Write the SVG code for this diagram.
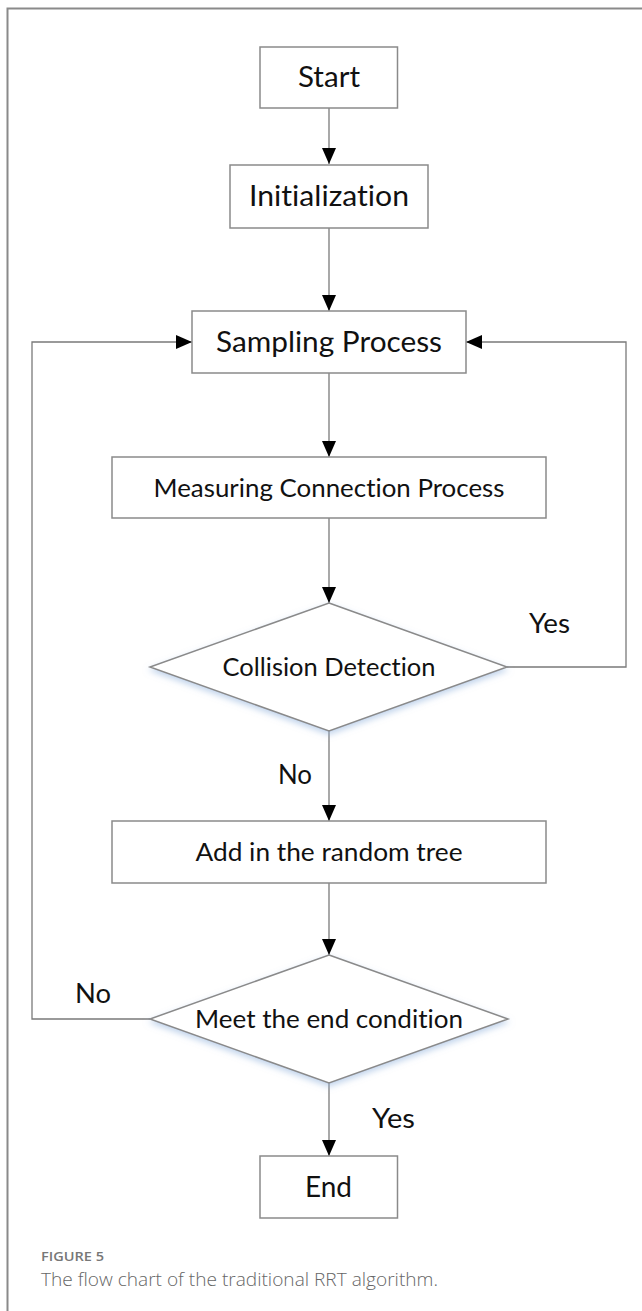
<svg xmlns="http://www.w3.org/2000/svg" width="642" height="1311" viewBox="0 0 642 1311">
<style>
.box{fill:#fff;stroke:#8a8a8a;stroke-width:1.5}
.dia{fill:#fff;stroke:#8a8a8a;stroke-width:1.5}
.ln{fill:none;stroke:#7a7a7a;stroke-width:1.3}
.t{font-family:Lato,"Open Sans","Liberation Sans",sans-serif;fill:#111;text-anchor:middle;font-variant-ligatures:none}
.big{font-size:28.5px}
.mid{font-size:25px}
.lab{font-family:Lato,"Open Sans","Liberation Sans",sans-serif;fill:#111;font-size:26px}
.cap1{font-family:"Open Sans","Liberation Sans",sans-serif;font-size:13px;font-weight:600;fill:#777}
.cap2{font-family:"Open Sans","Liberation Sans",sans-serif;font-size:18.5px;font-weight:300;fill:#666;font-variant-ligatures:none}
</style>
<defs>
<marker id="ah" viewBox="0 0 16 14" refX="16" refY="7" markerWidth="16" markerHeight="14" markerUnits="userSpaceOnUse" orient="auto">
<path d="M0,0 L16,7 L0,14 Z" fill="#000"/>
</marker>
<filter id="sh" x="-10%" y="-10%" width="120%" height="130%">
<feDropShadow dx="0" dy="3" stdDeviation="3" flood-color="#8fb0dc" flood-opacity="0.55"/>
</filter>
</defs>
<rect x="7.5" y="8.5" width="700" height="1400" fill="none" stroke="#8a8a8a" stroke-width="2"/>
<g id="connectors">
<line class="ln" x1="329" y1="108" x2="329" y2="164" marker-end="url(#ah)"/>
<line class="ln" x1="329" y1="228" x2="329" y2="311" marker-end="url(#ah)"/>
<line class="ln" x1="329" y1="373" x2="329" y2="457" marker-end="url(#ah)"/>
<line class="ln" x1="329" y1="518" x2="329" y2="603" marker-end="url(#ah)"/>
<polyline class="ln" points="507,667 626,667 626,342 466,342" marker-end="url(#ah)"/>
<line class="ln" x1="329" y1="731" x2="329" y2="821" marker-end="url(#ah)"/>
<line class="ln" x1="329" y1="883" x2="329" y2="955" marker-end="url(#ah)"/>
<polyline class="ln" points="150,1019 32,1019 32,342 192,342" marker-end="url(#ah)"/>
<line class="ln" x1="329" y1="1083" x2="329" y2="1156" marker-end="url(#ah)"/>
<text class="lab" x="529" y="633" textLength="41" lengthAdjust="spacingAndGlyphs">Yes</text>
<text class="lab" x="278" y="784" textLength="34" lengthAdjust="spacingAndGlyphs">No</text>
<text class="lab" x="75" y="1003" textLength="36" lengthAdjust="spacingAndGlyphs">No</text>
<text class="lab" x="372" y="1128" textLength="43" lengthAdjust="spacingAndGlyphs">Yes</text>
</g>
<g id="start">
<rect class="box" x="260" y="47" width="137.5" height="61"/>
<text class="t big" x="329" y="87" textLength="62" lengthAdjust="spacingAndGlyphs">Start</text>
</g>
<g id="init">
<rect class="box" x="230" y="165" width="198" height="63"/>
<text class="t big" x="329" y="206" textLength="160" lengthAdjust="spacingAndGlyphs">Initialization</text>
</g>
<g id="sampling">
<rect class="box" x="192" y="311" width="274" height="62"/>
<text class="t big" x="329" y="352" textLength="226" lengthAdjust="spacingAndGlyphs">Sampling Process</text>
</g>
<g id="measuring">
<rect class="box" x="112" y="457" width="434" height="61"/>
<text class="t mid" x="329" y="497" textLength="351" lengthAdjust="spacingAndGlyphs">Measuring Connection Process</text>
</g>
<g id="collision">
<polygon class="dia" filter="url(#sh)" points="329,603 507,667 329,731 150,667"/>
<text class="t mid" x="329" y="676" textLength="213" lengthAdjust="spacingAndGlyphs">Collision Detection</text>
</g>
<g id="add">
<rect class="box" x="112" y="821" width="434" height="62"/>
<text class="t mid" x="329" y="861" textLength="267" lengthAdjust="spacingAndGlyphs">Add in the random tree</text>
</g>
<g id="meet">
<polygon class="dia" filter="url(#sh)" points="329,955 508,1019 329,1083 150,1019"/>
<text class="t mid" x="329" y="1028" textLength="268" lengthAdjust="spacingAndGlyphs">Meet the end condition</text>
</g>
<g id="end">
<rect class="box" x="260" y="1156" width="137.5" height="62"/>
<text class="t big" x="328.5" y="1197" textLength="47" lengthAdjust="spacingAndGlyphs">End</text>
</g>
<g id="caption">
<text class="cap1" x="41" y="1261" textLength="63" lengthAdjust="spacingAndGlyphs">FIGURE 5</text>
<text class="cap2" x="41" y="1286" textLength="397" lengthAdjust="spacingAndGlyphs">The flow chart of the traditional RRT algorithm.</text>
</g>
</svg>
